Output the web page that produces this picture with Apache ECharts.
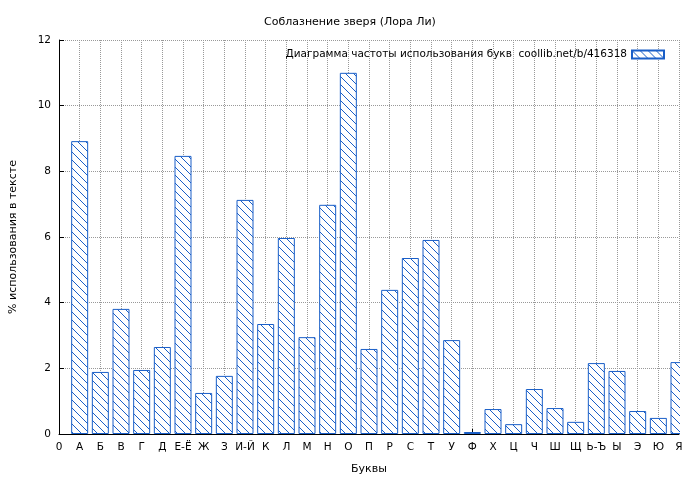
<!DOCTYPE html>
<html><head><meta charset="utf-8">
<script src="https://cdn.jsdelivr.net/npm/echarts@6/dist/echarts.min.js"></script>
<style>html,body{margin:0;background:#fff}#c{width:700px;height:480px}</style>
</head><body><div id="c"></div>
<script>
const categories = ["0","А","Б","В","Г","Д","Е-Ё","Ж","З","И-Й","К","Л","М","Н","О","П","Р","С","Т","У","Ф","Х","Ц","Ч","Ш","Щ","Ь-Ъ","Ы","Э","Ю","Я"];
const values = [null,8.92,1.89,3.81,1.95,2.65,8.47,1.25,1.77,7.13,3.35,5.97,2.95,6.98,11.0,2.59,4.39,5.36,5.91,2.86,0.06,0.76,0.30,1.37,0.79,0.37,2.16,1.92,0.70,0.49,2.19];
const yTicks = [0,2,4,6,8,10,12];

const cv = document.createElement('canvas'); cv.width = 8; cv.height = 8;
const g = cv.getContext('2d');
g.fillStyle = '#fff'; g.fillRect(0,0,8,8);
g.strokeStyle = '#1a5fc8'; g.lineWidth = 1;
g.beginPath();
g.moveTo(-1,-1); g.lineTo(9,9);
g.moveTo(-5,3); g.lineTo(5,13);
g.moveTo(3,-5); g.lineTo(13,5);
g.stroke();

const font = 'DejaVu Sans';
const chart = echarts.init(document.getElementById('c'));
chart.setOption({
  animation:false,
  textStyle:{fontFamily:font},
  title:{text:'Соблазнение зверя (Лора Ли)',left:'center',top:12,textStyle:{fontSize:11,fontWeight:'normal',color:'#000',fontFamily:font}},
  legend:{top:44,right:30,itemWidth:32,itemHeight:8,align:'right',icon:'rect',textStyle:{fontSize:10.5,color:'#000',fontFamily:font},
    data:[{name:'Диаграмма частоты использования букв  coollib.net/b/416318'}]},
  grid:{left:55,right:21,top:40,bottom:46,containLabel:false},
  xAxis:{type:'category',data:categories,boundaryGap:false,name:'Буквы',nameLocation:'middle',nameGap:30,
    nameTextStyle:{fontSize:11,color:'#000'},
    axisLine:{lineStyle:{color:'#000'}},axisTick:{show:true,inside:true,lineStyle:{color:'#000'}},
    axisLabel:{fontSize:10.5,color:'#000',interval:0},
    splitLine:{show:true,lineStyle:{type:'dotted',color:'#999'}}},
  yAxis:{type:'value',min:0,max:12,interval:2,name:'% использования в тексте',nameLocation:'middle',nameGap:40,
    nameTextStyle:{fontSize:11,color:'#000'},
    axisLine:{show:true,lineStyle:{color:'#000'}},axisTick:{show:true,inside:true,lineStyle:{color:'#000'}},
    axisLabel:{fontSize:10.5,color:'#000',formatter:v=>yTicks.includes(v)?String(v):''},
    splitLine:{show:true,lineStyle:{type:'dotted',color:'#999'}}},
  graphic:[{type:'rect',left:680,top:36,shape:{width:20,height:400},style:{fill:'#fff'},z:100}],
  series:[{name:'Диаграмма частоты использования букв  coollib.net/b/416318',type:'bar',data:values,barWidth:17,
    itemStyle:{color:{image:cv,repeat:'repeat'},borderColor:'#1a5fc8',borderWidth:1}}]
});
</script></body></html>
